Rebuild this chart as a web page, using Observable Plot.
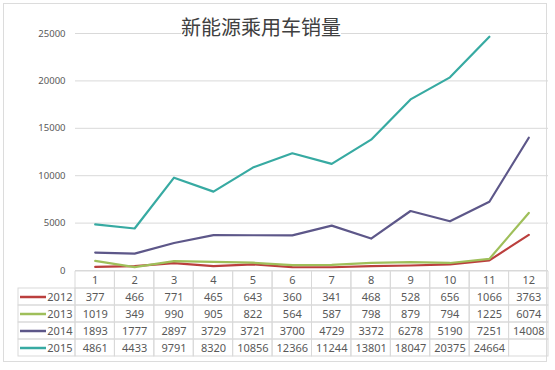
<!DOCTYPE html>
<html>
<head>
<meta charset="utf-8">
<script src="https://cdn.jsdelivr.net/npm/d3@7"></script>
<script src="https://cdn.jsdelivr.net/npm/@observablehq/plot@0.6"></script>
<style>
  html, body { margin: 0; padding: 0; background: #fff; }
  #wrap { position: relative; width: 555px; height: 370px; overflow: hidden; }
  #border { position: absolute; left: 3px; top: 3px; width: 544px; height: 359px; border: 1px solid #dcdcdc; box-sizing: border-box; }
  #title { position: absolute; top: 15px; left: 261px; transform: translateX(-50%); background: #fff;
           font-family: "Noto Sans CJK SC", sans-serif; font-size: 20px; line-height: 24px; color: #404040; white-space: nowrap; z-index: 3; }
  #chart { position: relative; z-index: 1; }
  #table { position: relative; z-index: 2; margin-top: -9px; }
  svg { display: block; }
</style>
</head>
<body>
<div id="wrap">
  <div id="border"></div>
  <div id="chart"></div>
  <div id="table"></div>
  <div id="title"></div>
</div>
<script>
const titleText = "新能源乘用车销量";
const months = [1, 2, 3, 4, 5, 6, 7, 8, 9, 10, 11, 12];
const years = ["2012", "2013", "2014", "2015"];
const sales2012 = [377, 466, 771, 465, 643, 360, 341, 468, 528, 656, 1066, 3763];
const sales2013 = [1019, 349, 990, 905, 822, 564, 587, 798, 879, 794, 1225, 6074];
const sales2014 = [1893, 1777, 2897, 3729, 3721, 3700, 4729, 3372, 6278, 5190, 7251, 14008];
const sales2015 = [4861, 4433, 9791, 8320, 10856, 12366, 11244, 13801, 18047, 20375, 24664, null];
const yTicks = [0, 5000, 10000, 15000, 20000, 25000];
const colors = ["#bb3f3d", "#9fbf5a", "#5d5789", "#37aaa2"];

const series = [sales2012, sales2013, sales2014, sales2015];
const rows = years.flatMap((yr, i) => series[i].map((v, j) => ({year: yr, month: months[j], value: v})));
const valid = rows.filter(d => d.value != null);

document.getElementById("title").textContent = titleText;

// layout constants
const W = 555, mL = 75, mR = 7, tableLeft = 18;
const colW = (W - mR - mL) / months.length;
const lo = 0.5 - (mL - tableLeft) / colW;

const chart = Plot.plot({
  width: W, height: 280,
  marginLeft: mL, marginRight: mR, marginTop: 33, marginBottom: 10,
  x: {domain: [0.5, 12.5], axis: null},
  y: {domain: [0, 25000], axis: null},
  color: {domain: years, range: colors},
  style: {fontFamily: "Noto Sans, sans-serif", fontSize: "9.5px", color: "#595959", background: "transparent"},
  marks: [
    Plot.gridY(yTicks, {stroke: "#d9d9d9", strokeOpacity: 1}),
    Plot.axisY(yTicks, {tickSize: 0, tickPadding: 10, label: null, fill: "#595959", tickFormat: d => String(d)}),
    Plot.line(valid, {x: "month", y: "value", z: "year", stroke: "year", strokeWidth: 2.2})
  ]
});
document.getElementById("chart").appendChild(chart);

const rowKeys = ["m", ...years];
const headerCells = months.map(m => ({row: "m", x1: m - 0.5, x2: m + 0.5, text: String(m)}));
const labelCells = years.map(yr => ({row: yr, x1: lo, x2: 0.5}));
const valueCells = rows.map(d => ({row: d.year, x1: d.month - 0.5, x2: d.month + 0.5, month: d.month, text: d.value == null ? "" : String(d.value)}));
const swA = lo + (20 - tableLeft) / colW, swB = lo + (46 - tableLeft) / colW;

const table = Plot.plot({
  width: W, height: 86,
  marginLeft: tableLeft, marginRight: mR, marginTop: 0, marginBottom: 1,
  x: {domain: [lo, 12.5], axis: null},
  y: {domain: rowKeys, axis: null, padding: 0},
  color: {domain: years, range: colors},
  style: {fontFamily: "Noto Sans, sans-serif", fontSize: "11px", color: "#595959", background: "transparent"},
  marks: [
    Plot.barX([...headerCells, ...labelCells, ...valueCells], {x1: "x1", x2: "x2", y: "row", fill: "none", stroke: "#d9d9d9", strokeWidth: 1, insetTop: 0, insetBottom: 0}),
    Plot.text(headerCells, {x: d => (d.x1 + d.x2) / 2, y: "row", text: "text", fill: "#595959"}),
    Plot.text(valueCells, {x: "month", y: "row", text: "text", fill: "#595959"}),
    Plot.ruleY(years, {y: d => d, x1: swA, x2: swB, stroke: d => d, strokeWidth: 2.5}),
    Plot.text(years, {y: d => d, x: 0.5, dx: -3, text: d => d, textAnchor: "end", fill: "#595959"})
  ]
});
document.getElementById("table").appendChild(table);
</script>
</body>
</html>
